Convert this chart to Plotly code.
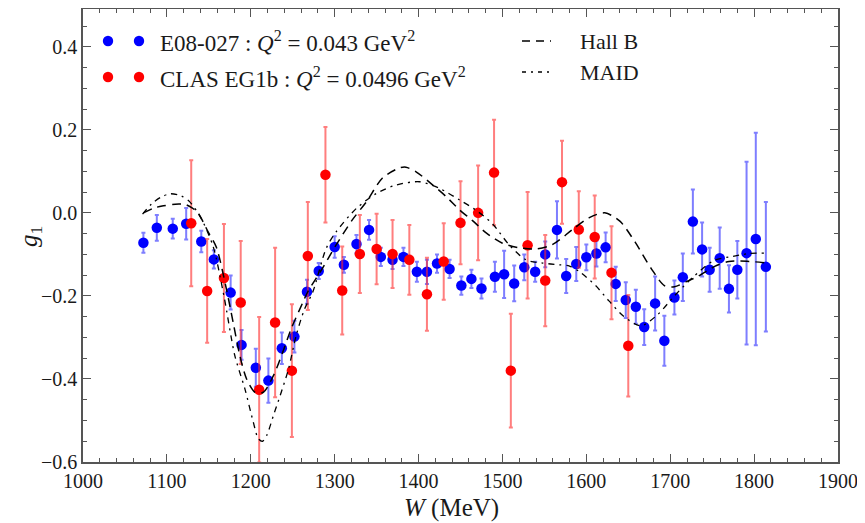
import plotly.graph_objects as go

# ---------------- data ----------------
blue_W = [1072, 1088, 1107, 1123, 1141, 1156, 1176, 1189, 1206, 1221, 1237, 1252, 1267, 1281,
          1300, 1311, 1326, 1341, 1355, 1369, 1382, 1398, 1410, 1422, 1437, 1451, 1463, 1475,
          1491, 1502, 1514, 1526, 1539, 1551, 1565, 1576, 1588, 1600, 1612, 1623, 1635, 1647,
          1659, 1669, 1682, 1693, 1705, 1715, 1727, 1738, 1747, 1759, 1770, 1780, 1791, 1802, 1814]
blue_g = [-0.072, -0.036, -0.038, -0.026, -0.069, -0.112, -0.192, -0.318, -0.373, -0.404, -0.326,
          -0.298, -0.19, -0.14, -0.082, -0.125, -0.075, -0.041, -0.106, -0.113, -0.106, -0.142,
          -0.142, -0.122, -0.135, -0.175, -0.159, -0.182, -0.154, -0.148, -0.17, -0.131, -0.142,
          -0.10, -0.041, -0.152, -0.123, -0.107, -0.098, -0.083, -0.171, -0.21, -0.226, -0.275,
          -0.218, -0.308, -0.204, -0.155, -0.021, -0.088, -0.137, -0.109, -0.183, -0.137, -0.097,
          -0.063, -0.13]
blue_err = [0.024, 0.031, 0.024, 0.038, 0.026, 0.022, 0.041, 0.036, 0.046, 0.053, 0.038, 0.038,
            0.029, 0.019, 0.026, 0.019, 0.022, 0.024, 0.022, 0.022, 0.022, 0.024, 0.029, 0.022,
            0.022, 0.022, 0.022, 0.024, 0.036, 0.057, 0.043, 0.031, 0.024, 0.031, 0.069, 0.041,
            0.041, 0.031, 0.031, 0.036, 0.041, 0.043, 0.041, 0.043, 0.065, 0.060, 0.041, 0.057,
            0.077, 0.065, 0.053, 0.074, 0.057, 0.069, 0.220, 0.256, 0.156]

red_W = [1129, 1148, 1168, 1188, 1210, 1229, 1249, 1268, 1289, 1309, 1330, 1350, 1369, 1389,
         1410, 1430, 1450, 1471, 1490, 1510, 1530, 1551, 1571, 1591, 1610, 1630, 1650]
red_g = [-0.025, -0.188, -0.157, -0.216, -0.426, -0.264, -0.380, -0.104, 0.092, -0.187, -0.099,
         -0.087, -0.099, -0.113, -0.196, -0.117, -0.024, 0.0, 0.097, -0.38, -0.078, -0.163, 0.074,
         -0.04, -0.058, -0.144, -0.32]
red_err = [0.152, 0.125, 0.13, 0.148, 0.175, 0.18, 0.16, 0.13, 0.115, 0.106, 0.094, 0.085, 0.082,
           0.084, 0.088, 0.092, 0.10, 0.114, 0.127, 0.137, 0.128, 0.11, 0.10, 0.092, 0.10, 0.112,
           0.122]

hallb_W = [1072, 1085, 1096, 1110, 1122, 1130, 1137, 1149, 1159, 1171, 1179, 1187, 1195, 1205,
           1215, 1227, 1238, 1248, 1262, 1268, 1285, 1300, 1321, 1338, 1357, 1377, 1385, 1397,
           1417, 1433, 1449, 1464, 1481, 1500, 1520, 1540, 1559, 1583, 1603, 1622, 1640, 1658,
           1677, 1693, 1705, 1720, 1733, 1753, 1770, 1794, 1812]
hallb_g = [0.0, 0.012, 0.017, 0.021, 0.02, 0.012, 0.0, -0.045, -0.083, -0.184, -0.264, -0.344,
           -0.40, -0.432, -0.432, -0.392, -0.336, -0.28, -0.216, -0.19, -0.135, -0.083, -0.017,
           0.027, 0.084, 0.108, 0.11, 0.099, 0.067, 0.039, 0.007, -0.018, -0.049, -0.073, -0.084,
           -0.087, -0.077, -0.041, -0.012, 0.0, -0.02, -0.07, -0.133, -0.175, -0.178, -0.165,
           -0.153, -0.129, -0.117, -0.117, -0.12]

maid_W = [1071, 1082, 1093, 1104, 1117, 1127, 1140, 1155, 1168, 1181, 1193, 1203, 1209, 1214,
          1219, 1227, 1235, 1245, 1254, 1264, 1274, 1290, 1302, 1326, 1350, 1373, 1401, 1425,
          1449, 1468, 1488, 1508, 1528, 1548, 1568, 1580, 1592, 1611, 1627, 1645, 1665, 1685,
          1705, 1727, 1752, 1774, 1794, 1812]
maid_g = [-0.003, 0.022, 0.038, 0.046, 0.041, 0.027, -0.01, -0.08, -0.2, -0.344, -0.424, -0.504,
          -0.544, -0.55, -0.536, -0.488, -0.44, -0.376, -0.296, -0.232, -0.19, -0.085, -0.045,
          0.011, 0.047, 0.067, 0.075, 0.059, 0.031, 0.007, -0.026, -0.077, -0.113, -0.121, -0.125,
          -0.128, -0.142, -0.175, -0.212, -0.25, -0.272, -0.245, -0.2, -0.155, -0.115, -0.105,
          -0.098, -0.097]

x_ticks = [1000, 1100, 1200, 1300, 1400, 1500, 1600, 1700, 1800, 1900]
y_ticks = [-0.6, -0.4, -0.2, 0.0, 0.2, 0.4]
y_ticktext = ["\u22120.6", "\u22120.4", "\u22120.2", "0.0", "0.2", "0.4"]

legend_data = ["E08-027 : <i>Q</i><sup>2</sup> = 0.043 GeV<sup>2</sup>",
               "CLAS EG1b : <i>Q</i><sup>2</sup> = 0.0496 GeV<sup>2</sup>"]
legend_models = ["Hall B", "MAID"]
x_title = "<i>W</i> (MeV)"
y_title = "<i>g</i><sub>1</sub>"

# ---------------- layout geometry ----------------
FONT = "Liberation Serif"
OFF = 8                      # browser default body margin
FIG_W, FIG_H = 865 - OFF, 523 - OFF
# plot area in page pixels
PL, PR, PT, PB = 83, 838, 9, 462
PW, PH = PR - PL, PB - PT


def px(x):
    return (x - PL) / PW


def py(y):
    return (PB - y) / PH


BLUE, RED = "rgb(0,0,255)", "rgb(255,0,0)"
TXT = "#1a1a1a"
AX = "#555"

fig = go.Figure()
fig.add_trace(go.Scatter(
    x=blue_W, y=blue_g, mode="markers",
    marker=dict(color=BLUE, size=10.5, line=dict(width=0)),
    error_y=dict(type="data", array=blue_err, color="rgba(40,40,255,0.6)", thickness=2, width=2),
    showlegend=False))
fig.add_trace(go.Scatter(
    x=red_W, y=red_g, mode="markers",
    marker=dict(color=RED, size=10.5, line=dict(width=0)),
    error_y=dict(type="data", array=red_err, color="rgba(255,40,40,0.6)", thickness=2, width=2),
    showlegend=False))
fig.add_trace(go.Scatter(
    x=hallb_W, y=hallb_g, mode="lines",
    line=dict(color="black", width=1.5, dash="9px,6px", shape="spline", smoothing=0.8),
    showlegend=False))
fig.add_trace(go.Scatter(
    x=maid_W, y=maid_g, mode="lines",
    line=dict(color="black", width=1.3, dash="6px,5px,2px,5px", shape="spline", smoothing=0.8),
    showlegend=False))

shapes = []
annotations = []
# legend: data entries (two dots each)
for (row_y, col) in [(41, BLUE), (77, RED)]:
    for dx in (108, 139):
        shapes.append(dict(type="circle", xref="paper", yref="paper", xsizemode="pixel",
                           ysizemode="pixel", xanchor=px(dx), yanchor=py(row_y),
                           x0=-5.2, x1=5.2, y0=-5.2, y1=5.2, fillcolor=col, line=dict(width=0)))
for text, row_y in zip(legend_data, (41, 77)):
    annotations.append(dict(text=text, xref="paper", yref="paper", x=px(158), y=py(row_y),
                            xanchor="left", yanchor="middle", showarrow=False,
                            font=dict(family=FONT, size=23, color=TXT)))
# legend: model entries
for dash, row_y, w in [("8px,6px", 41, 1.5), ("4px,5px,2px,5px", 72, 1.3)]:
    shapes.append(dict(type="line", xref="paper", yref="paper", x0=px(522), x1=px(551),
                       y0=py(row_y), y1=py(row_y), line=dict(color="black", width=w, dash=dash)))
for text, row_y in zip(legend_models, (41, 72)):
    annotations.append(dict(text=text, xref="paper", yref="paper", x=px(578), y=py(row_y),
                            xanchor="left", yanchor="middle", showarrow=False,
                            font=dict(family=FONT, size=22, color=TXT)))
# axis titles
annotations.append(dict(text=x_title, xref="paper", yref="paper", x=px(451), y=py(508),
                        xanchor="center", yanchor="middle", showarrow=False,
                        font=dict(family=FONT, size=25, color=TXT)))
annotations.append(dict(text=y_title, xref="paper", yref="paper", x=px(30), y=py(236),
                        xanchor="center", yanchor="middle", showarrow=False, textangle=-90,
                        font=dict(family=FONT, size=25, color=TXT)))

axis_common = dict(showline=True, linecolor=AX, linewidth=1.5, mirror="allticks",
                   ticks="inside", tickcolor=AX, tickwidth=1.2, ticklen=8,
                   showgrid=False, zeroline=False, automargin=False,
                   tickfont=dict(family=FONT, size=20, color=TXT))

fig.update_xaxes(range=[1000, 1900], tickvals=x_ticks, ticktext=[str(v) for v in x_ticks],
                 minor=dict(dtick=20, tick0=1000, ticks="inside", ticklen=4, tickcolor=AX,
                            tickwidth=1, showgrid=False),
                 **axis_common)
fig.update_yaxes(range=[-0.6, 0.4 + (47 - PT) * 0.2 / 83.5], tickvals=y_ticks, ticktext=y_ticktext,
                 minor=dict(dtick=0.05, tick0=0, ticks="inside", ticklen=4, tickcolor=AX,
                            tickwidth=1, showgrid=False),
                 **axis_common)

fig.update_layout(width=FIG_W, height=FIG_H,
                  margin=dict(l=PL - OFF, r=FIG_W - (PR - OFF), t=PT - OFF, b=FIG_H - (PB - OFF)),
                  paper_bgcolor="white", plot_bgcolor="white",
                  shapes=shapes, annotations=annotations, showlegend=False)

fig.write_html("out.html")
